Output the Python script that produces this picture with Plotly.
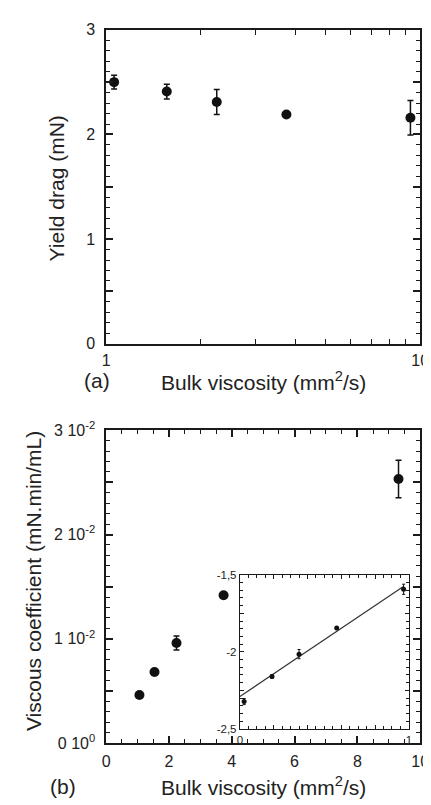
import plotly.graph_objects as go

# ---------------- data ----------------
# Panel (a): yield drag vs bulk viscosity (log x)
visc_a = [1.06, 1.56, 2.25, 3.75, 9.31]
yield_drag = [2.50, 2.41, 2.31, 2.19, 2.16]
yield_err = [0.065, 0.07, 0.12, 0.0, 0.165]

# Panel (b): viscous coefficient vs bulk viscosity (linear)
visc_b = [1.06, 1.54, 2.24, 3.74, 9.31]
visc_coef = [0.00462, 0.00682, 0.0096, 0.01418, 0.02533]
visc_err = [0.0, 0.0, 0.00068, 0.0, 0.0018]

# Inset: log-log representation with linear fit
inset_x = [0.025, 0.19, 0.35, 0.573, 0.969]
inset_y = [-2.323, -2.16, -2.015, -1.846, -1.594]
inset_err = [0.02, 0.012, 0.03, 0.0, 0.033]
fit_intercept = -2.29
fit_slope = 0.737
fit_x = [0.0, 0.97]

# tick label aliases
ya_alias = {"0.5": " ", "1.5": " ", "2.5": " "}
yb_alias = {"0": "0 10<sup>0</sup>", "0.005": " ", "0.01": "1 10<sup>-2</sup>",
            "0.015": " ", "0.02": "2 10<sup>-2</sup>", "0.025": " ",
            "0.03": "3 10<sup>-2</sup>"}
inset_y_alias = {"−2.5": "-2,5", "−2.25": " ", "−2": "-2", "−1.75": " ", "−1.5": "-1,5",
                 "-2.5": "-2,5", "-2.25": " ", "-2": "-2", "-1.75": " ", "-1.5": "-1,5"}
inset_x_alias = {"0.2": " ", "0.4": " ", "0.6": " ", "0.8": " "}

# ---------------- figure ----------------
W, H = 431, 805
M = 4
FONT = "Liberation Sans, Arial, sans-serif"
AX = "#1a1a1a"
INK = "#111111"

def px_x(v):
    return (v - M) / (W - 2 * M)

def px_y(v):
    return 1 - (v - M) / (H - 2 * M)

fig = go.Figure()

fig.add_trace(go.Scatter(
    x=visc_a, y=yield_drag, mode="markers",
    marker=dict(color=INK, size=10),
    error_y=dict(type="data", array=yield_err, color=INK, thickness=1.5, width=3),
    xaxis="x", yaxis="y", showlegend=False))

fig.add_trace(go.Scatter(
    x=visc_b, y=visc_coef, mode="markers",
    marker=dict(color=INK, size=10),
    error_y=dict(type="data", array=visc_err, color=INK, thickness=1.5, width=3),
    xaxis="x2", yaxis="y2", showlegend=False))

fig.add_trace(go.Scatter(
    x=fit_x, y=[fit_intercept + fit_slope * v for v in fit_x], mode="lines",
    line=dict(color="#333333", width=1.2),
    xaxis="x3", yaxis="y3", showlegend=False))

fig.add_trace(go.Scatter(
    x=inset_x, y=inset_y, mode="markers",
    marker=dict(color=INK, size=5),
    error_y=dict(type="data", array=inset_err, color=INK, thickness=1, width=1.5),
    xaxis="x3", yaxis="y3", showlegend=False))

def axis(size=16, lw=1.5, tw=1.5, **kw):
    d = dict(showline=True, linecolor=AX, linewidth=lw, mirror="allticks",
             ticks="inside", tickcolor=AX, tickwidth=tw, showgrid=False,
             zeroline=False,
             tickfont=dict(family=FONT, size=size, color="#222"))
    d.update(kw)
    return d

def minor(dtick, ln, tw=1.2):
    return dict(dtick=dtick, ticks="inside", ticklen=ln, tickcolor=AX,
                tickwidth=tw)

dom_x = [px_x(97), px_x(421)]
dom_ya = [px_y(333), px_y(11)]
dom_yb = [px_y(742.7), px_y(421.7)]

log_minor = dict(ticks="inside", ticklen=5, tickcolor=AX, tickwidth=1.2)

fig.update_layout(
    width=W, height=H,
    margin=dict(l=M, r=M, t=M, b=M),
    paper_bgcolor="white", plot_bgcolor="rgba(0,0,0,0)",
    xaxis=axis(domain=dom_x, anchor="y", type="log", range=[0, 1],
               dtick=1, ticklen=7, ticklabelstandoff=1, minor=log_minor),
    yaxis=axis(domain=dom_ya, anchor="x", range=[0, 3],
               dtick=0.5, labelalias=ya_alias, ticklen=7, ticklabelstandoff=6,
               minor=minor(0.1, 4)),
    xaxis2=axis(domain=dom_x, anchor="y2", range=[0, 10],
                dtick=2, ticklen=7, ticklabelstandoff=3, minor=minor(0.5, 4)),
    yaxis2=axis(domain=dom_yb, anchor="x2", range=[0, 0.03],
                dtick=0.005, labelalias=yb_alias, ticklen=7, ticklabelstandoff=6,
                minor=minor(0.001, 4)),
    xaxis3=axis(size=11.5, lw=1.2, tw=1.2, domain=[px_x(235), px_x(409.3)], anchor="y3",
                range=[0, 1], dtick=0.2, labelalias=inset_x_alias,
                ticklen=4, minor=minor(0.05, 3, 1)),
    yaxis3=axis(size=11.5, lw=1.2, tw=1.2, domain=[px_y(728), px_y(570)], anchor="x3",
                range=[-2.5, -1.5], dtick=0.25, labelalias=inset_y_alias,
                ticklen=4, minor=minor(0.05, 3, 1)),
    # twin axes: their mirrored ticks reinforce the ticks on the main sides
    xaxis4=axis(overlaying="x", anchor="y", side="top", type="log", range=[0, 1],
                dtick=1, ticklen=7, showticklabels=False, minor=log_minor),
    yaxis4=axis(overlaying="y", anchor="x", side="right", range=[0, 3],
                dtick=0.5, ticklen=7, showticklabels=False, minor=minor(0.1, 4)),
    xaxis5=axis(overlaying="x2", anchor="y2", side="top", range=[0, 10],
                dtick=2, ticklen=7, showticklabels=False, minor=minor(0.5, 4)),
    yaxis5=axis(overlaying="y2", anchor="x2", side="right", range=[0, 0.03],
                dtick=0.005, ticklen=7, showticklabels=False, minor=minor(0.001, 4)),
)

tfont = dict(family=FONT, size=21, color="#222")
ann = [
    dict(text="Bulk viscosity (mm<sup>2</sup>/s)", x=px_x(259), y=px_y(371)),
    dict(text="(a)", x=px_x(88), y=px_y(371)),
    dict(text="Yield drag (mN)", x=px_x(46), y=px_y(174), textangle=-90),
    dict(text="Bulk viscosity (mm<sup>2</sup>/s)", x=px_x(259), y=px_y(787)),
    dict(text="(b)", x=px_x(52), y=px_y(787)),
    dict(text="Viscous coefficient (mN.min/mL)", x=px_x(22), y=px_y(576), textangle=-90),
]
for a in ann:
    fig.add_annotation(xref="paper", yref="paper", xanchor="center", yanchor="middle",
                       showarrow=False, font=tfont, **a)

fig.write_html("out.html")
